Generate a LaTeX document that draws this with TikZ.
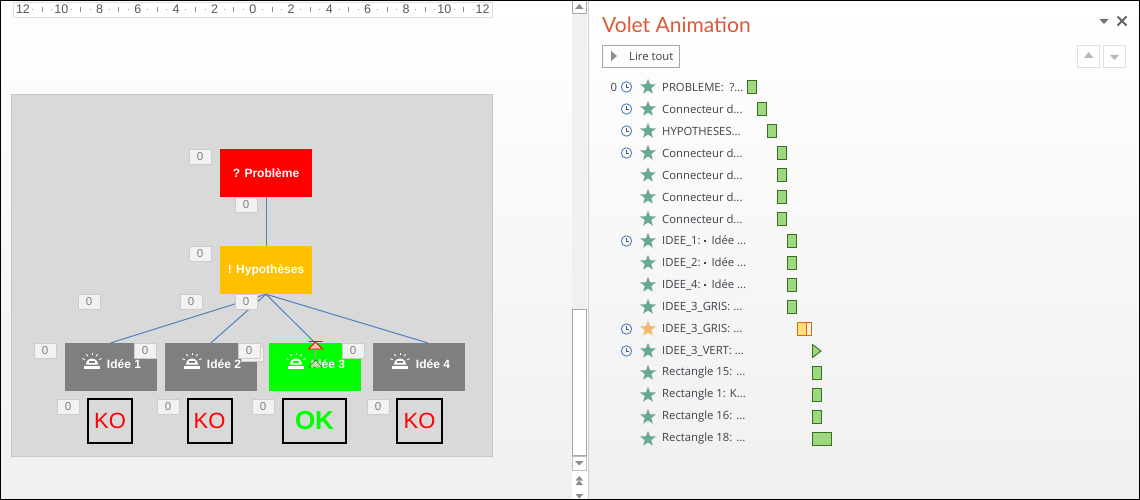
\documentclass[tikz,border=0pt]{standalone}
\usepackage{fontspec}
\setmainfont{Open Sans}
\newfontfamily\boxfont{Liberation Sans}
\newfontfamily\titlefont{Lato}
\usetikzlibrary{positioning,shapes.geometric}
\definecolor{slidegrey}{HTML}{D9D9D9}
\definecolor{ideegrey}{HTML}{7F7F7F}
\definecolor{hypoyellow}{HTML}{FFC000}
\definecolor{linkblue}{HTML}{4F81BD}
\definecolor{titlered}{HTML}{DB5A38}
\definecolor{barfill}{HTML}{9CD97E}
\definecolor{barline}{HTML}{3C6E1F}
\definecolor{starteal}{HTML}{6BA892}
\definecolor{starorange}{HTML}{F0B868}
\definecolor{listtext}{HTML}{3F3F4A}
\definecolor{markgreen}{HTML}{C5E0A0}
\newcommand{\puce}{\raisebox{2.5pt}{\rule{2pt}{2pt}}}
\tikzset{
  ideebox/.style={minimum width=92pt,minimum height=48pt,inner sep=0pt,text=white,font=\boxfont\bfseries\fontsize{12}{12}\selectfont},
  badge/.style={draw=black!20,line width=1pt,fill=black!5,minimum width=22pt,minimum height=15pt,inner sep=0pt,text=black!50,font=\boxfont\fontsize{11.5}{11.5}\selectfont},
  resultbox/.style={draw=black,line width=2pt,minimum height=44pt,inner sep=0pt,font=\boxfont\fontsize{22}{22}\selectfont},
  link/.style={draw=linkblue,line width=1pt},
  rowtext/.style={anchor=west,inner sep=0pt,text=listtext,font=\fontsize{11.3}{11.3}\selectfont},
  rowstar/.style={star,star points=5,star point ratio=2.4,minimum size=16.5pt,inner sep=0pt,fill=starteal},
  timebar/.style={draw=barline,line width=0.9pt,fill=barfill},
  arrowtri/.style={fill=black!45},
  pics/bell/.style={code={
    \fill[white] (-6,4.5) arc[start angle=180,end angle=360,radius=6] -- cycle;
    \fill[white] (-8.3,5.5) rectangle (8.3,8.5);
    \fill[ideecolor] (-3,1) rectangle (3,2.5);
    \foreach \a in {-25,-58,-90,-122,-155}
      \draw[white,line width=0.9pt] (0,3) ++(\a:8) -- ++(\a:2.5);
  }},
  pics/clock/.style={code={
    \draw[linkblue,line width=0.9pt] (0,0) circle[radius=5.2];
    \draw[black!65,line width=0.8pt] (0,-3.4) -- (0,0) -- (2.8,0);
  }}
}
\colorlet{ideecolor}{ideegrey}
\begin{document}
\begin{tikzpicture}[x=1pt,y=-1pt]
  \useasboundingbox (0,0) rectangle (1140,500);
  \shade[top color=white,bottom color=black!6] (0,0) rectangle (572,500);
  \shade[top color=white,bottom color=black!6] (588,0) rectangle (1140,500);

  % ruler
  \draw[black!12,line width=1pt,fill=white] (13.5,2.5) rectangle (492.5,17.5);
  \foreach \k in {-12,-10,...,12}{
    \pgfmathtruncatemacro{\val}{abs(\k)}
    \node[inner sep=0pt,text=black!65,font=\boxfont\fontsize{12.5}{12.5}\selectfont] (rule\val\k) at (252.8+19.15*\k,9.5) {\val};
  }
  \foreach \k in {-11,-9,...,11}
    \draw[black!45,line width=0.7pt] (252.8+19.15*\k,7.5) -- (252.8+19.15*\k,12.5);
  \foreach \k in {-11.5,-10.5,...,11.5}
    \draw[black!40,line width=0.7pt] (252.8+19.15*\k,9.5) -- (252.8+19.15*\k,10.5);

  % slide
  \draw[black!22,line width=1pt,fill=slidegrey] (11.5,95) rectangle (492.5,456);

  \node[fill=red,ideebox] (prob) at (266,173) {? Problème};
  \node[fill=hypoyellow,ideebox] (hypo) at (266,270) {! Hypothèses};
  \node[fill=ideegrey,ideebox] (idee1) at (111,367) {};
  \node[fill=ideegrey,ideebox] (idee2) at (211,367) {};
  \node[fill=green,ideebox] (idee3) at (315,367) {};
  \node[fill=ideegrey,ideebox] (idee4) at (419,367) {};
  \coordinate (bout4) at (428,343);

  \draw[link] (prob) -- (hypo);
  \draw[link] (hypo.south) -- (idee1.north);
  \draw[link] (hypo.south) -- (idee2.north);
  \draw[link] (hypo.south) -- (idee3.north);
  \draw[link] (hypo.south) -- (bout4);

  \pic at (92,360) {bell};
  \pic at (192,360) {bell};
  {\colorlet{ideecolor}{green}\pic at (296,360) {bell};}
  \pic at (400,360) {bell};
  \node[ideebox,minimum width=0pt,minimum height=0pt] (lab1) at (124,364) {Idée 1};
  \node[ideebox,minimum width=0pt,minimum height=0pt] (lab2) at (224,364) {Idée 2};
  \node[ideebox,minimum width=0pt,minimum height=0pt] (lab3) at (328,364) {Idée 3};
  \node[ideebox,minimum width=0pt,minimum height=0pt] (lab4) at (433,364) {Idée 4};

  \draw[black!35,line width=0.7pt] (315.5,344) -- (315.5,361);
  \fill[red!25] (315.5,342) -- (322,349) -- (309,349) -- cycle;
  \draw[red,line width=0.9pt] (315.5,342) -- (322.5,349) -- (308.5,349) -- cycle (308.5,341.5) -- (322.5,341.5);
  \fill[markgreen] (315.5,360) -- (322,367) -- (309,367) -- cycle;
  \draw[green!50!black,line width=0.5pt] (315.5,360) -- (322,367) -- (309,367) -- cycle;

  \node[resultbox,minimum width=44pt,text=red] (ko1) at (110,420.5) {KO};
  \node[resultbox,minimum width=44pt,text=red] (ko2) at (209.5,420.5) {KO};
  \node[resultbox,minimum width=63pt,text=green,font=\boxfont\bfseries\fontsize{26}{26}\selectfont] (ok3) at (314.5,420.5) {OK};
  \node[resultbox,minimum width=44.5pt,text=red] (ko4) at (419.5,420.5) {KO};

  \node[badge] (b1) at (200,157) {0};
  \node[badge] (b2) at (246,205) {0};
  \node[badge] (b3) at (200,254) {0};
  \node[badge] (b4) at (89,302) {0};
  \node[badge] (b5) at (191,302) {0};
  \node[badge] (b6) at (246,302) {0};
  \node[badge] (b7) at (45,351) {0};
  \node[badge] (b8) at (145,351) {0};
  \node[badge] (b9) at (252,354) {};
  \node[badge] (b10) at (249,351) {0};
  \node[badge] (b11) at (353,351) {0};
  \node[badge] (b12) at (68,407) {0};
  \node[badge] (b13) at (168,407) {0};
  \node[badge] (b14) at (263,407) {0};
  \node[badge] (b15) at (378,407) {0};

  % scrollbar
  \fill[black!6] (572,0) rectangle (587,470);
  \draw[black!35,line width=1pt,fill=white] (572.5,0) rectangle (586,14);
  \fill[arrowtri] (579.3,4) -- (583.5,9) -- (575,9) -- cycle;
  \draw[black!35,line width=1pt,fill=white] (572.5,309.5) rectangle (586.5,455.5);
  \draw[black!25,line width=1pt,fill=white] (572.5,456) rectangle (586.5,470);
  \fill[arrowtri] (575,461) -- (583.5,461) -- (579.3,465.5) -- cycle;
  \fill[arrowtri] (579.3,476) -- (583,480.5) -- (575.5,480.5) -- cycle;
  \fill[arrowtri] (579.3,480.5) -- (583,485) -- (575.5,485) -- cycle;
  \fill[arrowtri] (575.5,494) -- (583,494) -- (579.3,498.5) -- cycle;
  \draw[black!20,line width=1pt] (588,0) -- (588,500);

  % panel
  \node[anchor=base west,inner sep=0pt,text=titlered,font=\titlefont\fontsize{21}{21}\selectfont] (titre) at (602,32.5) {Volet Animation};
  \node[draw=black!35,line width=1pt,minimum width=77pt,minimum height=22pt,inner sep=0pt] (lire) at (641,56.5) {};
  \node[anchor=west,inner sep=0pt,text=listtext,font=\fontsize{11.3}{11.3}\selectfont] (liretxt) at (lire.west) [xshift=27pt] {Lire tout};
  \fill[black!45] (611,51) -- (617,56) -- (611,61) -- cycle;

  \fill[black!55] (1099.5,19) -- (1108.5,19) -- (1104,24) -- cycle;
  \draw[black!60,line width=2pt] (1117.5,16.5) -- (1126.5,25.5) (1117.5,25.5) -- (1126.5,16.5);
  \draw[black!12,line width=1pt,fill=white] (1077.5,45.5) rectangle (1099.5,67.5);
  \draw[black!12,line width=1pt,fill=white] (1103.5,45.5) rectangle (1125.5,67.5);
  \fill[black!28] (1088.5,52) -- (1093.5,58) -- (1084,58) -- cycle;
  \fill[black!28] (1110,55) -- (1119,55) -- (1114.5,60) -- cycle;

  \node[rowtext] (zero) at (610.5,87) {0};
  \foreach \y in {87,109,131,153,241,329,351}
    \pic at (626.5,\y) {clock};
  \foreach \y/\txt/\xbar in {87/{PROBLEME:\ \ ?...}/747,109/{Connecteur d...}/757,131/{HYPOTHESES...}/767,
      153/{Connecteur d...}/777,175/{Connecteur d...}/777,197/{Connecteur d...}/777,219/{Connecteur d...}/777,
      241/{IDEE\_1:\ \puce\ \ Idée ...}/787,263/{IDEE\_2:\ \puce\ \ Idée ...}/787,
      285/{IDEE\_4:\ \puce\ \ Idée ...}/787,307/{IDEE\_3\_GRIS: ...}/787}{
    \node[rowstar] (star\y) at (648,\y) {};
    \node[rowtext] (txt\y) at (662,\y) {\txt};
    \draw[timebar] (\xbar,\y-6.5) rectangle (\xbar+9.5,\y+6.5);
  }
  \node[rowstar,fill=starorange] (star329) at (648,329) {};
  \node[rowtext] (txt329) at (662,329) {IDEE\_3\_GRIS: ...};
  \foreach \y/\txt in {351/{IDEE\_3\_VERT: ...},373/{Rectangle 15: ...},395/{Rectangle 1: K...},417/{Rectangle 16: ...},439/{Rectangle 18: ...}}{
    \node[rowstar] (star\y) at (648,\y) {};
    \node[rowtext] (txt\y) at (662,\y) {\txt};
  }
  \draw[draw=orange!85!black,line width=0.9pt,fill=yellow!55!orange!50!white] (797.5,322.5) rectangle (806,335.5);
  \draw[draw=orange!85!black,line width=0.9pt,fill=white!90!orange] (806,322.5) rectangle (811.5,335.5);
  \draw[timebar] (812.5,344.5) -- (821,351) -- (812.5,357.5) -- cycle;
  \draw[timebar] (812,366.5) rectangle (821.5,379.5);
  \draw[timebar] (812,388.5) rectangle (821.5,401.5);
  \draw[timebar] (812,410.5) rectangle (821.5,423.5);
  \draw[timebar] (812,432.5) rectangle (831.5,445.5);

  % window frame
  \draw[black,line width=2pt] (0,0) rectangle (1140,500);
\end{tikzpicture}
\end{document}
